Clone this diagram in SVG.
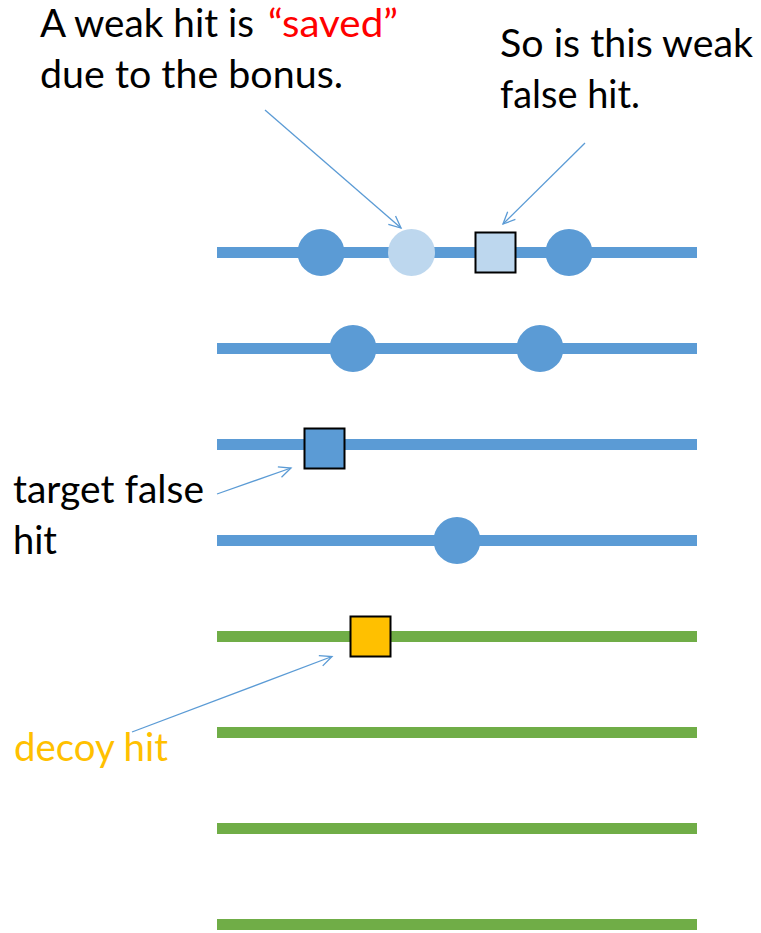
<svg xmlns="http://www.w3.org/2000/svg" width="761" height="933" viewBox="0 0 761 933">
  <style>
    .t { font-family: Lato, "Open Sans", "Liberation Sans", sans-serif; font-size: 38px; fill: #000; }
    .blue-line { stroke: #5B9BD5; stroke-width: 11; }
    .green-line { stroke: #70AD47; stroke-width: 11; }
    .dot { fill: #5B9BD5; }
    .dot-weak { fill: #BDD7EE; }
    .sq { stroke: #000; stroke-width: 2; }
    .conn { stroke: #5B9BD5; stroke-width: 1.3; fill: none; marker-end: url(#arr); }
  </style>
  <defs>
    <marker id="arr" markerUnits="userSpaceOnUse" markerWidth="16" markerHeight="16" viewBox="-13 -7 16 14" refX="0" refY="0" orient="auto">
      <path d="M -12,-5.5 L 0,0 L -12,5.5" fill="none" stroke="#5B9BD5" stroke-width="1.3"/>
    </marker>
  </defs>
  <rect width="761" height="933" fill="#fff"/>

  <g id="tracks">
    <line class="blue-line" x1="217" y1="252.5" x2="697" y2="252.5"/>
    <line class="blue-line" x1="217" y1="348.5" x2="697" y2="348.5"/>
    <line class="blue-line" x1="217" y1="444.5" x2="697" y2="444.5"/>
    <line class="blue-line" x1="217" y1="540.5" x2="697" y2="540.5"/>
    <line class="green-line" x1="217" y1="636.5" x2="697" y2="636.5"/>
    <line class="green-line" x1="217" y1="732.5" x2="697" y2="732.5"/>
    <line class="green-line" x1="217" y1="828.5" x2="697" y2="828.5"/>
    <line class="green-line" x1="217" y1="924.5" x2="697" y2="924.5"/>
  </g>

  <g id="hit-r1-a"><circle class="dot" cx="321" cy="252.5" r="23.5"/></g>
  <g id="hit-r1-weak"><circle class="dot-weak" cx="411.5" cy="252.5" r="23.5"/></g>
  <g id="hit-r1-weakfalse"><rect class="sq" x="475.5" y="232.5" width="40" height="40" fill="#BDD7EE"/></g>
  <g id="hit-r1-b"><circle class="dot" cx="569" cy="252.5" r="23.5"/></g>
  <g id="hit-r2-a"><circle class="dot" cx="353" cy="348.5" r="23.5"/></g>
  <g id="hit-r2-b"><circle class="dot" cx="540" cy="348.5" r="23.5"/></g>
  <g id="hit-r3-false"><rect class="sq" x="304.5" y="428.5" width="40" height="40" fill="#5B9BD5"/></g>
  <g id="hit-r4"><circle class="dot" cx="457" cy="540.5" r="23.5"/></g>
  <g id="hit-decoy"><rect class="sq" x="350.5" y="616.5" width="40" height="40" fill="#FFC000"/></g>

  <g id="label-saved">
    <text class="t" x="40" y="37" textLength="214" lengthAdjust="spacingAndGlyphs">A weak hit is</text>
    <text class="t" x="268" y="37" textLength="130" lengthAdjust="spacingAndGlyphs" style="fill:#FF0000">“saved”</text>
    <text class="t" x="40" y="88" textLength="303" lengthAdjust="spacingAndGlyphs">due to the bonus.</text>
  </g>
  <g id="label-weakfalse">
    <text class="t" x="500" y="57" textLength="253" lengthAdjust="spacingAndGlyphs">So is this weak</text>
    <text class="t" x="500" y="108" textLength="140" lengthAdjust="spacingAndGlyphs">false hit.</text>
  </g>
  <g id="label-targetfalse">
    <text class="t" x="13" y="503" textLength="191" lengthAdjust="spacingAndGlyphs">target false</text>
    <text class="t" x="13" y="554" textLength="44" lengthAdjust="spacingAndGlyphs">hit</text>
  </g>
  <g id="label-decoy">
    <text class="t" x="14" y="761" textLength="154" lengthAdjust="spacingAndGlyphs" style="fill:#FFC000">decoy hit</text>
  </g>

  <g id="connectors">
    <line class="conn" x1="265" y1="110" x2="401" y2="228"/>
    <line class="conn" x1="585" y1="143" x2="503" y2="224"/>
    <line class="conn" x1="217" y1="494" x2="291" y2="468"/>
    <line class="conn" x1="132" y1="732" x2="332" y2="656.5"/>
  </g>
</svg>
